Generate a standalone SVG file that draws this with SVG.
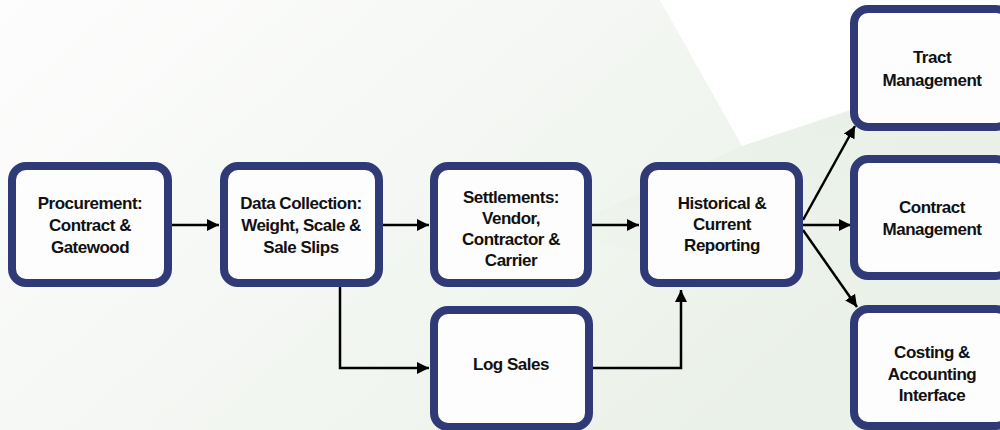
<svg xmlns="http://www.w3.org/2000/svg" width="1000" height="430" viewBox="0 0 1000 430">
  <defs>
    <linearGradient id="bg1" x1="0" y1="0" x2="1" y2="0.5">
      <stop offset="0" stop-color="#fdfdfd"/>
      <stop offset="0.5" stop-color="#f4f7f3"/>
      <stop offset="1" stop-color="#eaf1e8"/>
    </linearGradient>
    <linearGradient id="bg2" x1="0" y1="0" x2="0" y2="1">
      <stop offset="0" stop-color="#e6efe5" stop-opacity="0.8"/>
      <stop offset="1" stop-color="#eef3ed" stop-opacity="0"/>
    </linearGradient>
    <marker id="ah" viewBox="0 0 10 10" refX="10" refY="5" markerWidth="12" markerHeight="12" markerUnits="userSpaceOnUse" orient="auto">
      <path d="M0,0 L10,5 L0,10 Z" fill="#000"/>
    </marker>
    <style>
      .box { fill: #fdfdfd; stroke: #2f3a76; stroke-width: 8; }
      .lbl { font-family: "Liberation Sans", Arial, sans-serif; font-weight: bold; font-size: 17px; letter-spacing: -0.5px; fill: #111; text-anchor: middle; }
      .conn { fill: none; stroke: #000; stroke-width: 2.5; marker-end: url(#ah); }
    </style>
  </defs>
  <rect x="0" y="0" width="1000" height="430" fill="#ffffff"/>
  <polygon points="0,0 660,0 742,146 1000,60 1000,430 0,430" fill="url(#bg1)"/>
  <polygon points="560,230 742,146 860,108 1000,95 1000,330 800,300" fill="url(#bg2)"/>

  <g id="connectors">
    <line class="conn" x1="172" y1="225" x2="219" y2="225"/>
    <line class="conn" x1="383" y1="225" x2="429" y2="225"/>
    <line class="conn" x1="592" y1="225" x2="639" y2="225"/>
    <path class="conn" d="M340,287 V368 H429"/>
    <path class="conn" d="M593,368 H681 V290"/>
    <line class="conn" x1="803" y1="220" x2="855" y2="126"/>
    <line class="conn" x1="803" y1="225" x2="851" y2="225"/>
    <line class="conn" x1="803" y1="230" x2="857" y2="307"/>
  </g>

  <g id="procurement">
    <rect class="box" x="12" y="166" width="156" height="117" rx="14"/>
    <text class="lbl" x="90" y="209">Procurement:</text>
    <text class="lbl" x="90" y="231">Contract &amp;</text>
    <text class="lbl" x="90" y="253">Gatewood</text>
  </g>
  <g id="data-collection">
    <rect class="box" x="224" y="166" width="155" height="117" rx="14"/>
    <text class="lbl" x="301" y="209">Data Collection:</text>
    <text class="lbl" x="301" y="231">Weight, Scale &amp;</text>
    <text class="lbl" x="301" y="253">Sale Slips</text>
  </g>
  <g id="settlements">
    <rect class="box" x="434" y="166" width="154" height="117" rx="14"/>
    <text class="lbl" x="511" y="203">Settlements:</text>
    <text class="lbl" x="511" y="224">Vendor,</text>
    <text class="lbl" x="511" y="245">Contractor &amp;</text>
    <text class="lbl" x="511" y="266">Carrier</text>
  </g>
  <g id="reporting">
    <rect class="box" x="644" y="166" width="155" height="117" rx="14"/>
    <text class="lbl" x="722" y="209">Historical &amp;</text>
    <text class="lbl" x="722" y="230">Current</text>
    <text class="lbl" x="722" y="251">Reporting</text>
  </g>
  <g id="log-sales">
    <rect class="box" x="434" y="310" width="155" height="117" rx="14"/>
    <text class="lbl" x="511" y="370">Log Sales</text>
  </g>
  <g id="tract-management">
    <rect class="box" x="854" y="9" width="156" height="118" rx="14"/>
    <text class="lbl" x="932" y="63">Tract</text>
    <text class="lbl" x="932" y="86">Management</text>
  </g>
  <g id="contract-management">
    <rect class="box" x="854" y="159" width="156" height="117" rx="14"/>
    <text class="lbl" x="932" y="213">Contract</text>
    <text class="lbl" x="932" y="235">Management</text>
  </g>
  <g id="costing-accounting">
    <rect class="box" x="854" y="309" width="156" height="117" rx="14"/>
    <text class="lbl" x="932" y="358">Costing &amp;</text>
    <text class="lbl" x="932" y="380">Accounting</text>
    <text class="lbl" x="932" y="401">Interface</text>
  </g>
</svg>
